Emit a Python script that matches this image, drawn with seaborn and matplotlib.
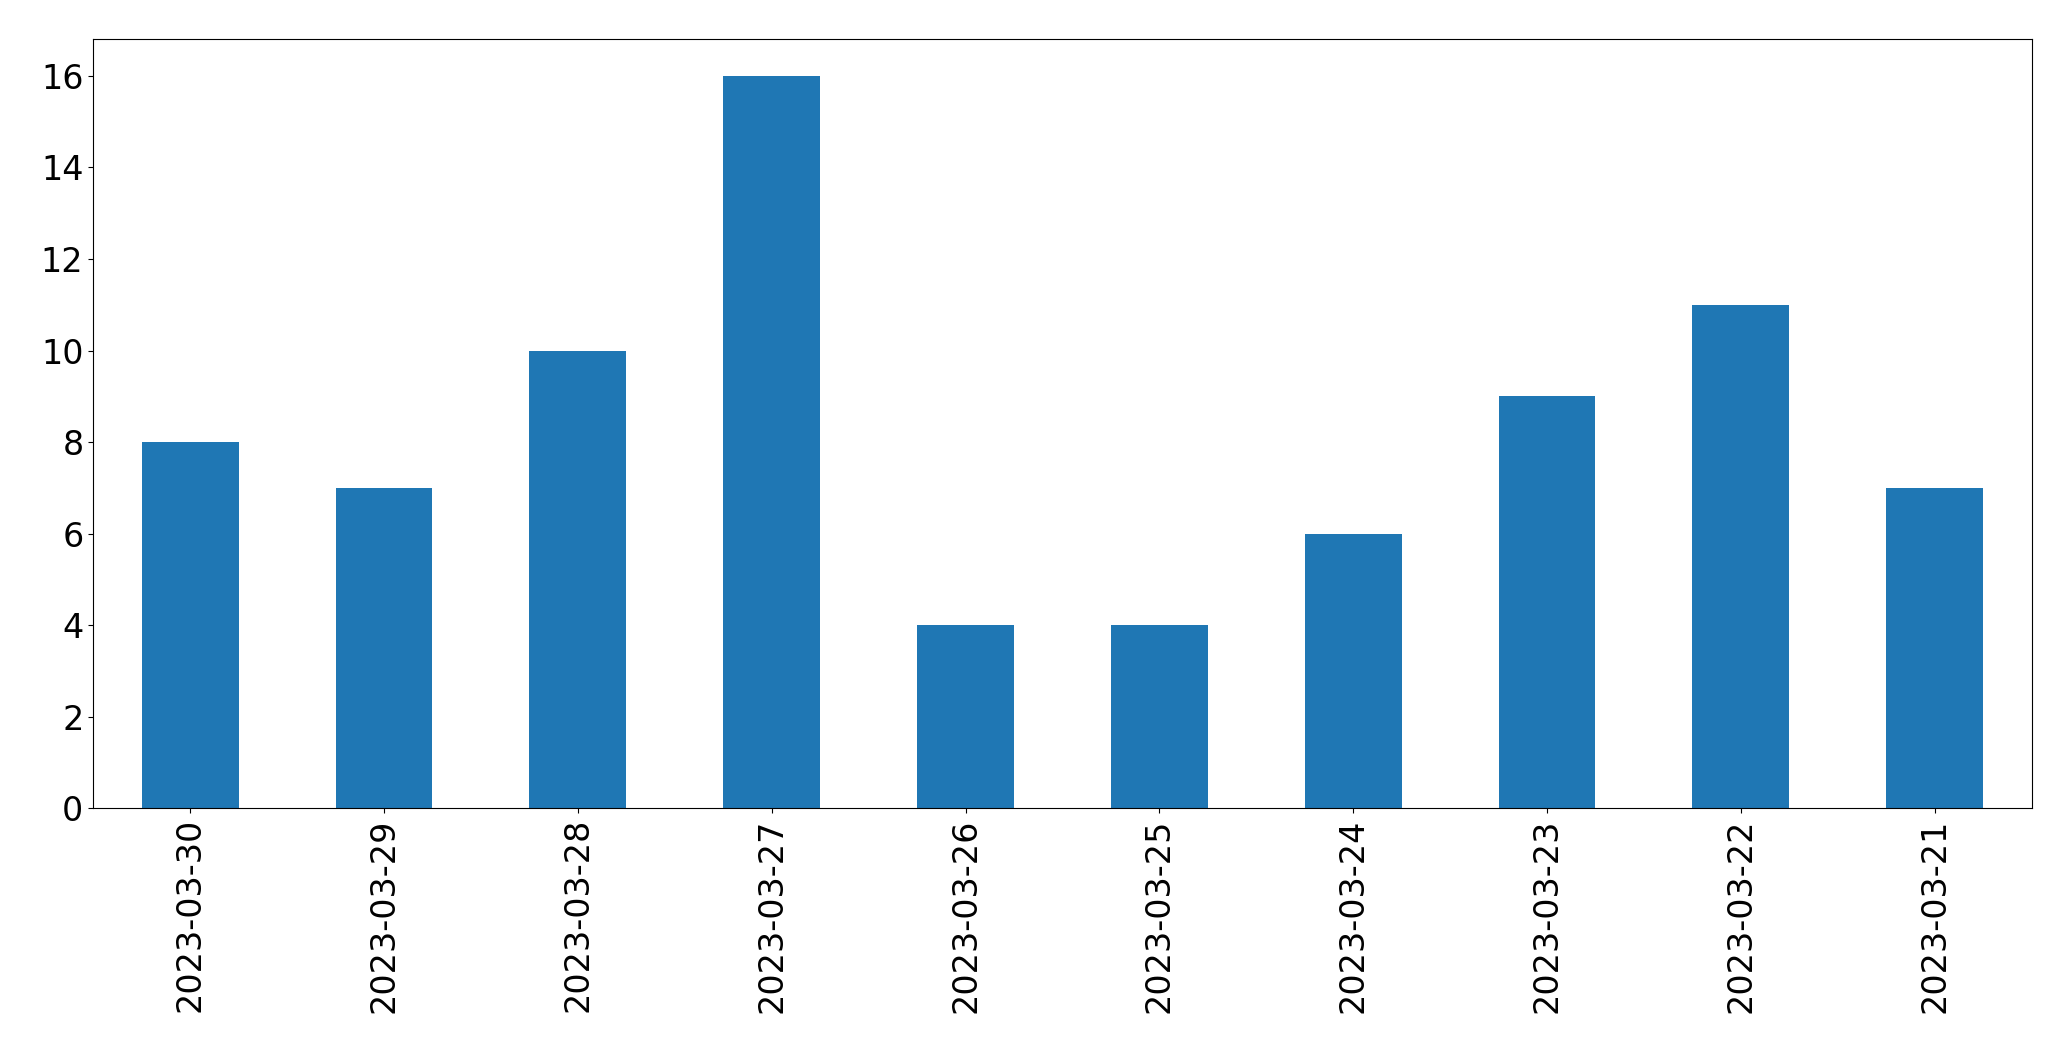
import matplotlib
matplotlib.use('Agg')
import matplotlib.pyplot as plt
import seaborn as sns

dates = ['2023-03-30', '2023-03-29', '2023-03-28', '2023-03-27', '2023-03-26',
         '2023-03-25', '2023-03-24', '2023-03-23', '2023-03-22', '2023-03-21']
counts = [8, 7, 10, 16, 4, 4, 6, 9, 11, 7]

fig, ax = plt.subplots(figsize=(20.71, 10.61), dpi=100)
fig.subplots_adjust(left=0.045, right=0.981, top=0.963, bottom=0.238)

sns.barplot(x=dates, y=counts, color='#1f77b4', saturation=1, width=0.5, ax=ax)
ax.set_xlim(-0.5, len(dates) - 0.5)
ax.set_ylim(0, 16.8)
ax.tick_params(axis='x', rotation=90, labelsize=24)
ax.tick_params(axis='y', labelsize=24)

plt.savefig('out.png', dpi=100)
